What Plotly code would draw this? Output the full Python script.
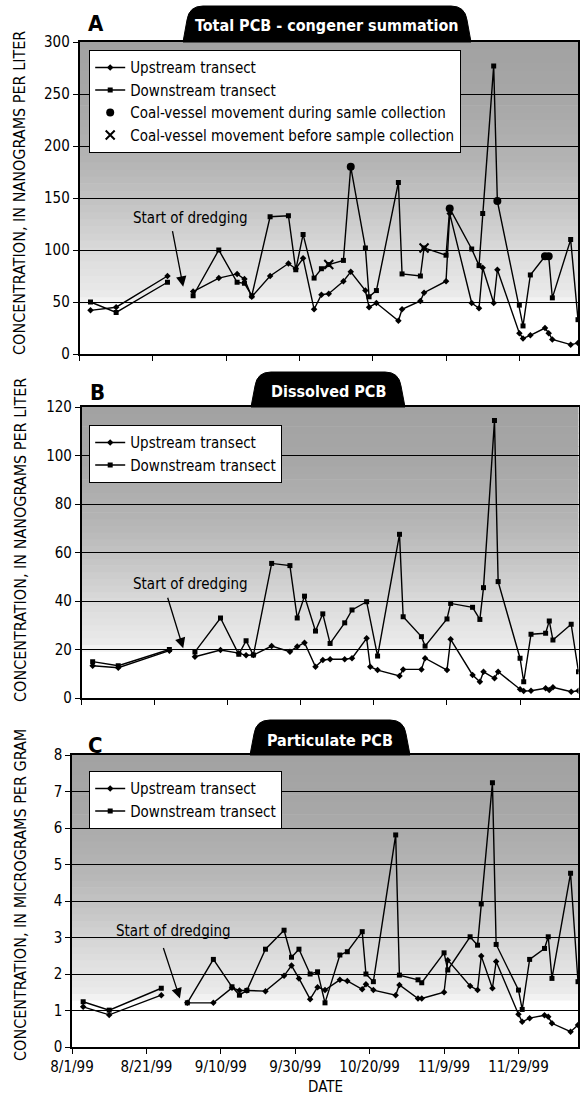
import numpy as np
import plotly.graph_objects as go

# ---------------- DATA ----------------
DATES = ["1999-08-04", "1999-08-11", "1999-08-25", "1999-09-01", "1999-09-08", "1999-09-13",
         "1999-09-15", "1999-09-17", "1999-09-22", "1999-09-27", "1999-09-29", "1999-10-01",
         "1999-10-04", "1999-10-06", "1999-10-08", "1999-10-12", "1999-10-14", "1999-10-18",
         "1999-10-19", "1999-10-21", "1999-10-27", "1999-10-28", "1999-11-02", "1999-11-03",
         "1999-11-09", "1999-11-10", "1999-11-16", "1999-11-18", "1999-11-19", "1999-11-22",
         "1999-11-23", "1999-11-29", "1999-11-30", "1999-12-02", "1999-12-06", "1999-12-07",
         "1999-12-08", "1999-12-13", "1999-12-15"]
DREDGE_START = "1999-08-29"

TOTAL_UP = [42, 45, 75, 60, 73, 77, 72, 55, 75, 87, 82, 92, 43, 57, 58, 70, 79, 61, 45, 49,
            32, 43, 51, 59, 70, 135, 49, 44, 83, 49, 81, 20, 15, 18, 25, 20, 14, 9, 10.5]
TOTAL_DOWN = [50, 40, 69, 56, 100, 69, 68, 56, 132, 133, 81, 115, 73, 82, 86, 90, 180, 102, 55, 61,
              165, 77, 75, 102, 95, 140, 101, 85, 135, 277, 147, 47, 27, 76, 94, 94, 54, 110, 33]

DISSOLVED_UP = [13.3, 12.5, 19.5, 17, 19.8, 18.5, 17.6, 17.7, 21.4, 19.1, 21.2, 22.8, 12.9, 15.7,
                16, 16, 16.4, 24.6, 12.9, 11.5, 9.1, 11.8, 11.8, 16.4, 11.5, 24.2, 9.5, 6.7, 10.8,
                8.1, 10.8, 3.6, 2.9, 3, 4, 3.3, 4.4, 2.6, 3]
DISSOLVED_DOWN = [15, 13.3, 20, 19, 33, 18, 23.6, 17.7, 55.5, 54.6, 33, 42, 27.6, 34.7, 22.5, 31,
                  36.3, 39.7, None, 17.3, 67.5, 33.5, 25.3, 21.4, 32.6, 39, 37.4, 32.4, 45.5,
                  114.4, 48, 16.4, 6.7, 26.3, 26.7, 31.8, 23.9, 30.4, 10.8]

PARTICULATE_UP = [1.10, 0.88, 1.42, 1.21, 1.21, 1.62, 1.55, 1.55, 1.53, 1.95, 2.23, 1.88, 1.31,
                  1.64, 1.56, 1.84, 1.81, 1.58, 1.72, 1.56, 1.42, 1.70, 1.33, 1.33, 1.50, 2.38,
                  1.67, 1.56, 2.49, 1.61, 2.34, 0.90, 0.69, 0.79, 0.87, 0.83, 0.65, 0.42, 0.60]
PARTICULATE_DOWN = [1.24, 1.01, 1.61, 1.21, 2.40, 1.65, 1.42, 1.55, 2.68, 3.20, 2.46, 2.68, 2.00,
                    2.06, 1.21, 2.52, 2.61, 3.16, 2.00, 1.79, 5.81, 1.97, 1.84, 1.76, 2.58, 2.11,
                    3.02, 2.79, 3.92, 7.24, 2.81, 1.56, 1.03, 2.40, 2.70, 3.02, 1.88, 4.76, 1.79]

VESSEL_DURING_DATES = ["1999-10-14", "1999-11-10", "1999-11-23", "1999-12-06", "1999-12-07"]
VESSEL_DURING_VALUES = [180, 140, 147, 94, 94]
VESSEL_BEFORE_DATES = ["1999-10-08", "1999-11-03"]
VESSEL_BEFORE_VALUES = [86, 102]

TICK_DATES = ["1999-08-01", "1999-08-21", "1999-09-10", "1999-09-30", "1999-10-20",
              "1999-11-09", "1999-11-29"]
TICK_LABELS = ["8/1/99", "8/21/99", "9/10/99", "9/30/99", "10/20/99", "11/9/99", "11/29/99"]
X_RANGE = ["1999-08-01", "1999-12-15"]

# ---------------- LAYOUT HELPERS ----------------
W, H = 580, 1097
FONT = "Liberation Sans Narrow, DejaVu Sans Condensed, Arial Narrow, sans-serif"


def fx(p):
    return p / W


def fy(p):
    return 1 - p / H


panels = [
    dict(up=TOTAL_UP, down=TOTAL_DOWN, yrange=[0, 300], dtick=50,
         box=(79.5, 578, 42, 354), letter="A", letter_xy=(96, 24),
         tab=(187, 467, 6), tab_text="Total PCB - congener summation", tab_xy=(327, 25),
         ytitle="CONCENTRATION, IN NANOGRAMS PER LITER", ytitle_y=193,
         legend_xy=(89, 50),
         arrow=("1999-08-29 07:00", 64.7, -11, -57), text=("1999-08-31 04:00", 130.8)),
    dict(up=DISSOLVED_UP, down=DISSOLVED_DOWN, yrange=[0, 120], dtick=20,
         box=(81.7, 578.5, 407, 698), letter="B", letter_xy=(97, 392),
         tab=(255, 401, 372), tab_text="Dissolved PCB", tab_xy=(328, 391),
         ytitle="CONCENTRATION, IN NANOGRAMS PER LITER", ytitle_y=540,
         legend_xy=(89, 425),
         arrow=("1999-08-28 19:00", 20.5, -16, -52), text=("1999-08-30 22:00", 47)),
    dict(up=PARTICULATE_UP, down=PARTICULATE_DOWN, yrange=[0, 8], dtick=1,
         box=(72, 578, 755, 1047), letter="C", letter_xy=(95, 745),
         tab=(254, 406, 720), tab_text="Particulate PCB", tab_xy=(330, 740),
         ytitle="CONCENTRATION, IN MICROGRAMS PER GRAM", ytitle_y=895,
         legend_xy=(89, 771),
         arrow=("1999-08-30 00:00", 1.33, -17, -52), text=("1999-08-28 05:00", 3.18)),
]

fig = go.Figure()
shapes = []
annotations = []
layout = {}

pre_idx = [i for i, d in enumerate(DATES) if d < DREDGE_START]
post_idx = [i for i, d in enumerate(DATES) if d >= DREDGE_START]

gray_f = [0.0, 0.15, 0.18, 0.32, 0.47, 0.62, 0.8, 1.0]
gray_v = [255, 255, 236, 220, 198, 180, 168, 162]

for k, p in enumerate(panels):
    n = k + 1
    xa = "x" if n == 1 else f"x{n}"
    ya = "y" if n == 1 else f"y{n}"
    lg = "legend" if n == 1 else f"legend{n}"
    x0, x1, y0, y1 = p["box"]

    # stippled gradient background
    nb = 44
    for b in range(nb):
        f0, f1 = b / nb, (b + 1) / nb
        g = int(np.interp((f0 + f1) / 2, gray_f, gray_v))
        if g >= 255:
            continue
        shapes.append(dict(type="rect", xref=f"{xa} domain", yref=f"{ya} domain",
                           x0=0, x1=1, y0=f0, y1=f1 + 0.002, layer="below",
                           line=dict(width=0), fillcolor=f"rgb({g},{g},{g})"))

    for name, vals, sym in [("Upstream transect", p["up"], "diamond"),
                            ("Downstream transect", p["down"], "square")]:
        for seg, idx in [("pre", pre_idx), ("post", post_idx)]:
            fig.add_trace(go.Scatter(
                x=[DATES[i] for i in idx], y=[vals[i] for i in idx],
                mode="lines+markers", name=name, connectgaps=True,
                line=dict(color="black", width=1.4),
                marker=dict(symbol=sym, size=5, color="black"),
                xaxis=xa, yaxis=ya, legend=lg,
                showlegend=(seg == "post")))

    if n == 1:
        fig.add_trace(go.Scatter(
            x=VESSEL_DURING_DATES, y=VESSEL_DURING_VALUES, mode="markers",
            name="Coal-vessel movement during samle collection",
            marker=dict(symbol="circle", size=8, color="black"),
            xaxis=xa, yaxis=ya, legend=lg))
        fig.add_trace(go.Scatter(
            x=VESSEL_BEFORE_DATES, y=VESSEL_BEFORE_VALUES, mode="markers",
            name="Coal-vessel movement before sample collection",
            marker=dict(symbol="x-thin", size=9, color="black",
                        line=dict(width=2, color="black")),
            xaxis=xa, yaxis=ya, legend=lg))

    layout[("xaxis" if n == 1 else f"xaxis{n}")] = dict(
        domain=[fx(x0), fx(x1)], anchor=ya, range=X_RANGE, type="date", automargin=False,
        tickvals=TICK_DATES, ticktext=TICK_LABELS, showticklabels=(n == 3),
        ticks="outside", ticklen=5, tickwidth=1.2, tickcolor="black",
        showline=True, linecolor="black", linewidth=1.5, mirror=True,
        showgrid=False, zeroline=False,
        tickfont=dict(family=FONT, size=15, color="black"))
    layout[("yaxis" if n == 1 else f"yaxis{n}")] = dict(
        domain=[fy(y1), fy(y0)], anchor=xa, range=p["yrange"], dtick=p["dtick"], automargin=False,
        tick0=0, ticks="outside", ticklen=5, tickwidth=1.2, tickcolor="black",
        showline=True, linecolor="black", linewidth=1.5, mirror=True,
        showgrid=True, gridcolor="black", gridwidth=1, zeroline=False,
        tickfont=dict(family=FONT, size=15, color="black"))

    layout[lg] = dict(x=fx(p["legend_xy"][0]), y=fy(p["legend_xy"][1]),
                      xanchor="left", yanchor="top", bgcolor="white",
                      bordercolor="black", borderwidth=1.2,
                      font=dict(family=FONT, size=15, color="black"),
                      itemwidth=30, tracegroupgap=0)

    # tab badge
    tx0, tx1, tyt = p["tab"]
    r = 14
    path = (f"M {fx(tx0-4)},{fy(y0)} L {fx(tx0)},{fy(tyt+r)} Q {fx(tx0+2)},{fy(tyt)} {fx(tx0+r+2)},{fy(tyt)} "
            f"L {fx(tx1-r-2)},{fy(tyt)} Q {fx(tx1-2)},{fy(tyt)} {fx(tx1)},{fy(tyt+r)} "
            f"L {fx(tx1+4)},{fy(y0)} Z")
    shapes.append(dict(type="path", xref="paper", yref="paper", path=path,
                       fillcolor="black", line=dict(color="black", width=1)))
    annotations.append(dict(xref="paper", yref="paper", x=fx(p["tab_xy"][0]), y=fy(p["tab_xy"][1]),
                            text=f"<b>{p['tab_text']}</b>", showarrow=False,
                            font=dict(family=FONT, size=16, color="white"),
                            xanchor="center", yanchor="middle"))
    # panel letter
    annotations.append(dict(xref="paper", yref="paper", x=fx(p["letter_xy"][0]), y=fy(p["letter_xy"][1]),
                            text=f"<b>{p['letter']}</b>", showarrow=False,
                            font=dict(family=FONT, size=22, color="black"),
                            xanchor="center", yanchor="middle"))
    # y title
    annotations.append(dict(xref="paper", yref="paper", x=fx(20), y=fy(p["ytitle_y"]),
                            text=p["ytitle"], showarrow=False, textangle=-90,
                            font=dict(family=FONT, size=16, color="black"),
                            xanchor="center", yanchor="middle"))
    # start of dredging
    ax_, ay_, axo, ayo = p["arrow"]
    annotations.append(dict(xref=xa, yref=ya, x=ax_, y=ay_, ax=axo, ay=ayo, text="",
                            showarrow=True, arrowhead=2, arrowsize=1.6, arrowwidth=1.3,
                            arrowcolor="black"))
    annotations.append(dict(xref=xa, yref=ya, x=p["text"][0], y=p["text"][1],
                            text="Start of dredging", showarrow=False,
                            font=dict(family=FONT, size=15, color="black"),
                            xanchor="center", yanchor="middle"))

annotations.append(dict(xref="paper", yref="paper", x=fx(325), y=fy(1087), text="DATE",
                        showarrow=False, font=dict(family=FONT, size=15, color="black"),
                        xanchor="center", yanchor="middle"))

fig.update_layout(width=W, height=H, margin=dict(l=0, r=0, t=0, b=0, autoexpand=False),
                  paper_bgcolor="white", plot_bgcolor="white",
                  shapes=shapes, annotations=annotations, **layout)

fig.write_html("out.html", config={"displayModeBar": False},
               post_script="document.body.style.margin='0';document.body.style.padding='0';"
                           "document.documentElement.style.overflow='hidden';")
